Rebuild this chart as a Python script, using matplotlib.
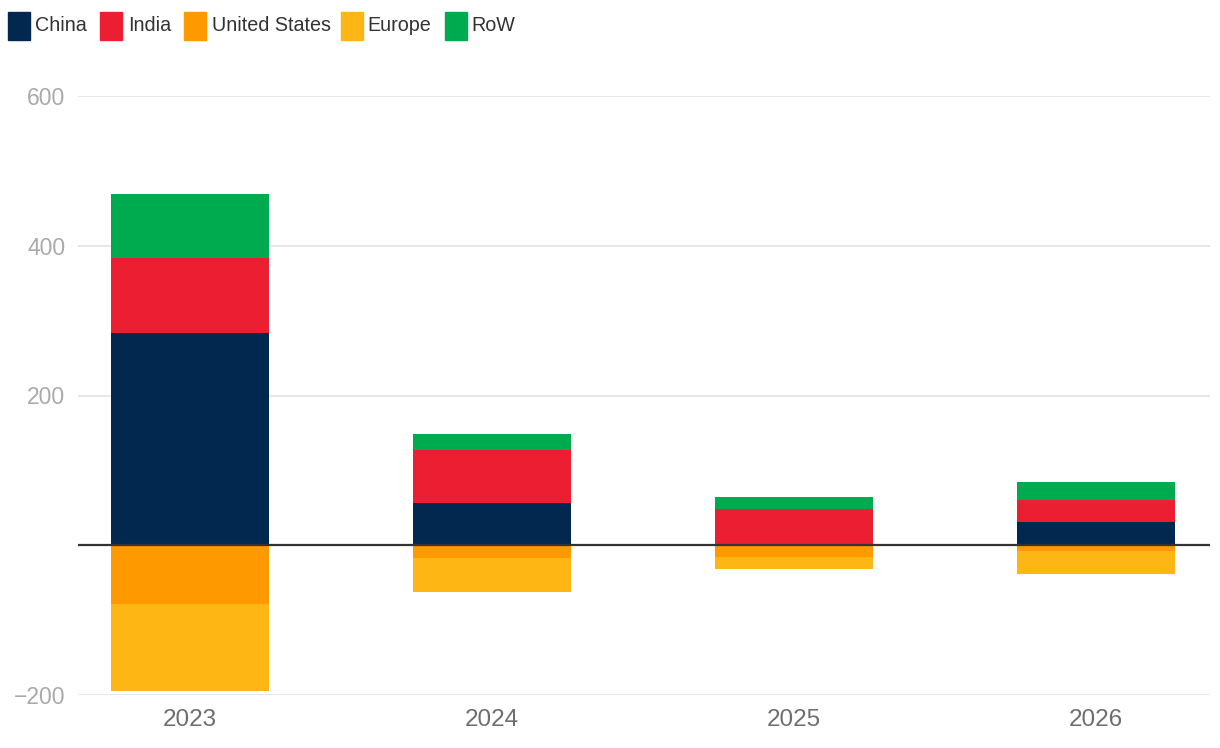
import numpy as np
import matplotlib.pyplot as plt
from matplotlib.patches import Rectangle

plt.rcParams['font.family'] = ['Liberation Sans', 'DejaVu Sans']

years = ['2023', '2024', '2025', '2026']
china = [284, 56, 0, 31]
india = [99, 71, 49, 29]
row = [86, 21, 15, 25]
united_states = [-79, -17, -16, -8]
europe = [-116, -46, -16, -31]

series_pos = [('China', china, '#03284f'), ('India', india, '#ec1e31'), ('RoW', row, '#00ab50')]
series_neg = [('United States', united_states, '#fe9900'), ('Europe', europe, '#fdb614')]
legend_order = [('China', '#03284f'), ('India', '#ec1e31'), ('United States', '#fe9900'),
                ('Europe', '#fdb614'), ('RoW', '#00ab50')]

fig = plt.figure(figsize=(12.2, 7.48), dpi=100)
ax = fig.add_axes([78 / 1220, 53 / 748, (1210 - 78) / 1220, (695 - 96) / 748])

x = np.arange(len(years))
width = 0.525

# positive stack
bottom = np.zeros(len(years))
for name, vals, col in series_pos:
    ax.bar(x, vals, width, bottom=bottom, color=col, zorder=3)
    bottom += np.array(vals)

# negative stack
bottom = np.zeros(len(years))
for name, vals, col in series_neg:
    ax.bar(x, vals, width, bottom=bottom, color=col, zorder=3)
    bottom += np.array(vals)

ax.set_xlim(-0.371, 3.377)
ax.set_ylim(-200, 600)
ax.set_yticks([-200, 200, 400, 600])
ax.set_yticklabels(['\u2212200', '200', '400', '600'])
ax.set_xticks(x)
ax.set_xticklabels(years)
ax.yaxis.grid(True, color='#e3e3e3', linewidth=1.2, zorder=0)
ax.axhline(0, color='#333333', linewidth=1.6, zorder=4)

for s in ax.spines.values():
    s.set_visible(False)
ax.tick_params(axis='both', length=0)
ax.tick_params(axis='y', labelsize=16.5, labelcolor='#aaaaaa', pad=9)
ax.tick_params(axis='x', labelsize=17.5, labelcolor='#6e6e6e', pad=10)

# legend drawn by hand across the top
sq_x = [8, 100, 184, 341, 445]
txt_x = [35, 128, 212, 367, 471]
for (name, col), sx, tx in zip(legend_order, sq_x, txt_x):
    fig.patches.append(Rectangle((sx / 1220, 1 - 40 / 748), 22 / 1220, 28 / 748,
                                 transform=fig.transFigure, color=col))
    fig.text(tx / 1220, 1 - 25.5 / 748, name, fontsize=14.2, color='#333333', va='center', ha='left')

fig.savefig('out.png', dpi=100)
